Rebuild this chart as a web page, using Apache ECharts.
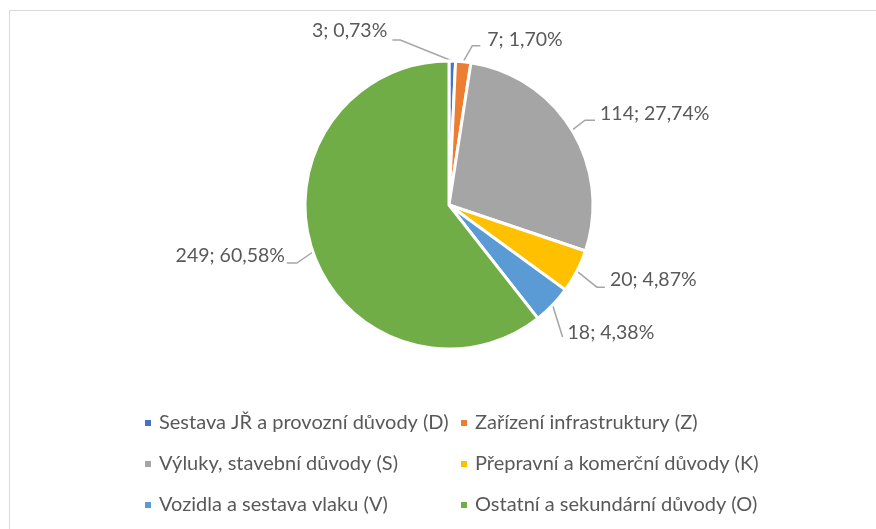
<!DOCTYPE html>
<html>
<head>
<meta charset="utf-8">
<script src="https://cdn.jsdelivr.net/npm/echarts@6/dist/echarts.min.js"></script>
<style>
  html, body { margin: 0; padding: 0; background: #ffffff; }
  #chart { width: 876px; height: 529px; }
</style>
</head>
<body>
<div id="chart"></div>
<script>
// Důvody zpoždění – počty případů podle kategorie
const categories = [
  'Sestava JŘ a provozní důvody (D)',
  'Zařízení infrastruktury (Z)',
  'Výluky, stavební důvody (S)',
  'Přepravní a komerční důvody (K)',
  'Vozidla a sestava vlaku (V)',
  'Ostatní a sekundární důvody (O)'
];
const counts = [3, 7, 114, 20, 18, 249];
const colors = ['#4472C4', '#ED7D31', '#A5A5A5', '#FFC000', '#5B9BD5', '#70AD47'];

const FONT = 'Lato, "Open Sans", sans-serif';
const TEXT = '#595959';

// Label placement relative to the slice edge point of each slice:
// e = elbow of the leader line, l = end of the leader line, t = text anchor.
const labelPlacement = [
  { e: [-52, -21], l: [-60, -21], t: [-65, -30], align: 'right' },
  { e: [9, -16],   l: [17, -16],  t: [24, -22],  align: 'left' },
  { e: [13, -10],  l: [23, -10],  t: [28, -16],  align: 'left' },
  { e: [20, 16],   l: [28, 16],   t: [33, 9],    align: 'left' },
  { e: [10, 32],   l: [10, 32],   t: [15, 28],   align: 'left' },
  { e: [-16, 11],  l: [-26, 11],  t: [-28, 4],   align: 'right' }
];

const chart = echarts.init(document.getElementById('chart'), null, { renderer: 'canvas' });

const pieData = categories.map((name, i) => ({
  name: name,
  value: counts[i],
  itemStyle: { color: colors[i] }
}));

const legendStyle = {
  orient: 'vertical',
  icon: 'rect',
  padding: 0,
  itemWidth: 8,
  itemHeight: 8,
  itemGap: 19,
  top: 412,
  textStyle: { color: TEXT, fontFamily: FONT, fontSize: 20, lineHeight: 22, padding: [0, 0, 0, 2] },
  selectedMode: false
};

chart.setOption({
  backgroundColor: '#ffffff',
  animation: false,
  color: colors,
  graphic: [{
    type: 'rect',
    shape: { x: 9.5, y: 10.5, width: 900, height: 600 },
    style: { fill: 'none', stroke: '#d9d9d9', lineWidth: 1 },
    silent: true
  }],
  legend: [
    Object.assign({ left: 143, data: [categories[0], categories[2], categories[4]] }, legendStyle),
    Object.assign({ left: 459, data: [categories[1], categories[3], categories[5]] }, legendStyle)
  ],
  series: [{
    type: 'pie',
    center: [449, 205],
    radius: 144,
    startAngle: 90,
    clockwise: true,
    data: pieData,
    itemStyle: { borderColor: '#ffffff', borderWidth: 3 },
    label: {
      show: true,
      position: 'outside',
      color: TEXT,
      fontFamily: FONT,
      fontSize: 19.5,
      formatter: function (p) {
        return p.value + '; ' + p.percent.toFixed(2).replace('.', ',') + '%';
      }
    },
    labelLine: {
      show: true,
      length: 14,
      length2: 10,
      lineStyle: { color: '#a6a6a6', width: 1.5 }
    },
    labelLayout: function (params) {
      const pts = params.labelLinePoints;
      const cfg = labelPlacement[params.dataIndex];
      if (!pts || !cfg) return {};
      const p0 = pts[0];
      return {
        x: p0[0] + cfg.t[0],
        y: p0[1] + cfg.t[1],
        align: cfg.align,
        verticalAlign: 'middle',
        labelLinePoints: [
          [p0[0], p0[1]],
          [p0[0] + cfg.e[0], p0[1] + cfg.e[1]],
          [p0[0] + cfg.l[0], p0[1] + cfg.l[1]]
        ]
      };
    }
  }]
});
</script>
</body>
</html>
